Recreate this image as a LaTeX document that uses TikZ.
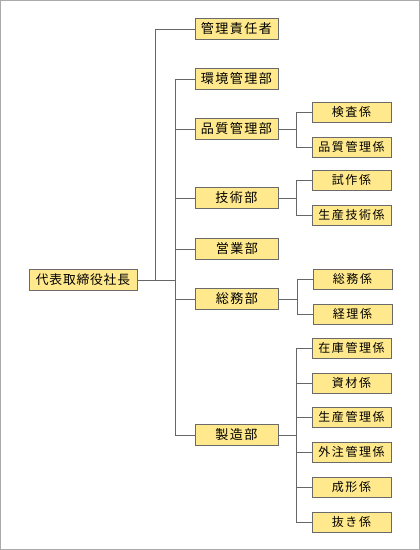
\documentclass[tikz,border=0pt]{standalone}
\usepackage{fontspec}
\setmainfont{Noto Sans CJK JP}
\newfontfamily\jpA[LetterSpace=11]{Noto Sans CJK JP}
\newfontfamily\jpB[LetterSpace=13]{Noto Sans CJK JP}
\newfontfamily\jpR[LetterSpace=6]{Noto Sans CJK JP}
\definecolor{boxfill}{HTML}{FFE98C}
\definecolor{boxline}{HTML}{6A6A6A}
\definecolor{conn}{HTML}{666666}
\definecolor{frame}{HTML}{AAAAAA}
\begin{document}
\begin{tikzpicture}[x=0.75pt,y=-0.75pt,
  boxbase/.style={draw=boxline,fill=boxfill,line width=0.75pt,rectangle,inner sep=0pt,text=black},
  lvone/.style={boxbase,minimum width=62.25pt,minimum height=15.75pt,font=\jpA\fontsize{9.8pt}{10pt}\selectfont},
  lvtwo/.style={boxbase,minimum width=59.25pt,minimum height=15pt,font=\jpB\fontsize{9pt}{10pt}\selectfont},
  rootbox/.style={boxbase,minimum width=81pt,minimum height=15.75pt,font=\jpR\fontsize{9.6pt}{10pt}\selectfont},
  link/.style={draw=conn,line width=0.75pt}]
\useasboundingbox (0,0) rectangle (420,550);
\draw[frame,line width=0.75pt] (0.5,0.5) rectangle (419.5,549.5);

% root
\node[rootbox] (root) at (83,280) {代表取締役社長};

% level one
\node[lvone] (kanri) at (236.5,29) {管理責任者};
\node[lvone] (kankyo) at (236.5,79) {環境管理部};
\node[lvone] (hinshitsu) at (236.5,129) {品質管理部};
\node[lvone] (gijutsu) at (236.5,198) {技術部};
\node[lvone] (eigyo) at (237,249) {営業部};
\node[lvone] (somu) at (237,299) {総務部};
\node[lvone] (seizo) at (236.5,435) {製造部};

% level two
\node[lvtwo] (kensa) at (351.5,112) {検査係};
\node[lvtwo] (hinkan) at (351.5,147) {品質管理係};
\node[lvtwo] (shisaku) at (351.5,180) {試作係};
\node[lvtwo] (seigi) at (351.5,215) {生産技術係};
\node[lvtwo] (somuk) at (352.5,279) {総務係};
\node[lvtwo] (keiri) at (352.5,314) {経理係};
\node[lvtwo] (zaiko) at (351.5,348) {在庫管理係};
\node[lvtwo] (shizai) at (351.5,383) {資材係};
\node[lvtwo] (seikan) at (351.5,417) {生産管理係};
\node[lvtwo] (gaichu) at (351.5,452) {外注管理係};
\node[lvtwo] (seikei) at (351.5,487) {成形係};
\node[lvtwo] (nuki) at (351.5,522) {抜き係};

% junctions
\coordinate (ja) at (155,280);
\coordinate (jb) at (175,280);
\coordinate (jh) at (296,129);
\coordinate (jg) at (296,198);
\coordinate (js) at (297,299);
\coordinate (jz) at (296,435);

% root connectors
\draw[link] (root.east) -- (jb);
\draw[link] (ja) |- (kanri.west);
\foreach \t in {kankyo,hinshitsu,gijutsu,eigyo,somu,seizo}
  \draw[link] (jb) |- (\t.west);

% level two connectors
\draw[link] (hinshitsu.east) -- (jh);
\draw[link] (jh) |- (kensa.west);
\draw[link] (jh) |- (hinkan.west);
\draw[link] (gijutsu.east) -- (jg);
\draw[link] (jg) |- (shisaku.west);
\draw[link] (jg) |- (seigi.west);
\draw[link] (somu.east) -- (js);
\draw[link] (js) |- (somuk.west);
\draw[link] (js) |- (keiri.west);
\draw[link] (seizo.east) -- (jz);
\foreach \t in {zaiko,shizai,seikan,gaichu,seikei,nuki}
  \draw[link] (jz) |- (\t.west);
\end{tikzpicture}
\end{document}
